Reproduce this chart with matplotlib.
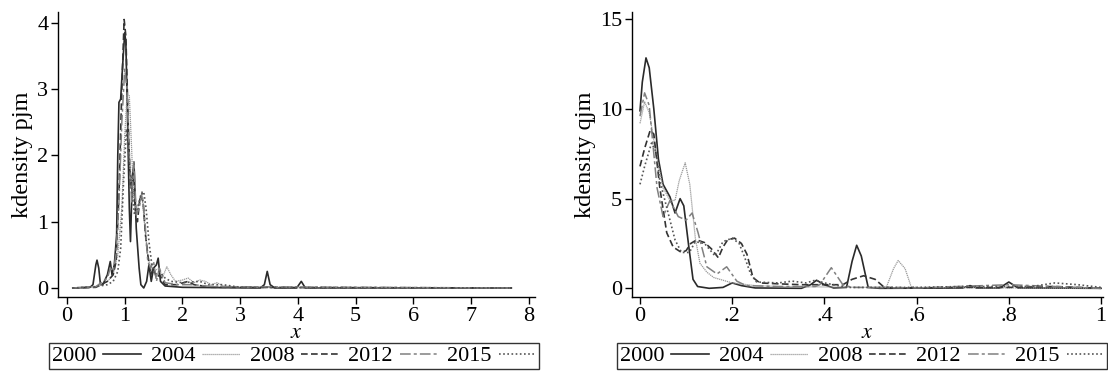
import matplotlib
matplotlib.use("Agg")
import matplotlib.pyplot as plt

plt.rcParams['font.family'] = ['Liberation Serif', 'DejaVu Serif']
plt.rcParams['mathtext.fontset'] = 'stix'

years = ["2000", "2004", "2008", "2012", "2015"]

# ---- left panel: kdensity pjm (x, density) ----
pjm_2000_x = [0.1, 0.4, 0.45, 0.5, 0.52, 0.55, 0.58, 0.62, 0.7, 0.75, 0.78, 0.82, 0.86, 0.88, 0.9, 0.93, 0.96, 1.0, 1.02, 1.05, 1.08, 1.1, 1.13, 1.16, 1.2, 1.25, 1.28, 1.33, 1.38, 1.42, 1.46, 1.5, 1.55, 1.58, 1.62, 1.7, 2.0, 3.35, 3.42, 3.47, 3.52, 3.6, 3.98, 4.06, 4.13, 7.7]
pjm_2000_y = [0.0, 0.01, 0.05, 0.35, 0.42, 0.3, 0.05, 0.05, 0.2, 0.4, 0.2, 0.35, 0.8, 2.0, 2.8, 2.85, 3.3, 3.85, 3.7, 2.5, 1.2, 0.7, 1.6, 1.9, 0.9, 0.3, 0.05, 0.0, 0.1, 0.35, 0.1, 0.3, 0.35, 0.45, 0.1, 0.03, 0.01, 0.0, 0.05, 0.25, 0.05, 0.0, 0.0, 0.1, 0.0, 0.0]

pjm_2004_x = [0.1, 0.5, 0.7, 0.8, 0.88, 0.95, 1.0, 1.04, 1.08, 1.12, 1.15, 1.2, 1.25, 1.3, 1.35, 1.4, 1.45, 1.5, 1.6, 1.65, 1.73, 1.8, 1.88, 2.0, 2.1, 2.2, 2.3, 2.4, 2.5, 2.6, 2.7, 3.0, 4.5, 7.7]
pjm_2004_y = [0.0, 0.02, 0.1, 0.2, 0.5, 1.2, 2.3, 2.9, 2.9, 2.1, 1.4, 1.1, 1.3, 1.4, 0.9, 0.5, 0.3, 0.25, 0.3, 0.15, 0.32, 0.2, 0.1, 0.12, 0.15, 0.08, 0.12, 0.1, 0.05, 0.08, 0.03, 0.01, 0.0, 0.0]

pjm_2008_x = [0.1, 0.5, 0.7, 0.8, 0.85, 0.9, 0.95, 0.99, 1.02, 1.06, 1.1, 1.15, 1.18, 1.22, 1.27, 1.32, 1.36, 1.4, 1.45, 1.5, 1.55, 1.6, 1.7, 1.9, 2.1, 2.2, 2.5, 7.7]
pjm_2008_y = [0.0, 0.01, 0.1, 0.2, 0.4, 1.4, 3.0, 4.05, 3.8, 2.5, 1.5, 1.8, 1.2, 1.0, 1.4, 1.3, 0.8, 0.5, 0.2, 0.3, 0.15, 0.2, 0.05, 0.05, 0.1, 0.05, 0.01, 0.0]

pjm_2012_x = [0.1, 0.5, 0.7, 0.75, 0.8, 0.85, 0.9, 0.95, 1.0, 1.04, 1.08, 1.12, 1.16, 1.2, 1.25, 1.3, 1.35, 1.4, 1.45, 1.5, 1.55, 1.6, 1.7, 1.9, 2.2, 2.4, 2.7, 7.7]
pjm_2012_y = [0.0, 0.02, 0.15, 0.3, 0.25, 0.5, 1.3, 2.5, 3.3, 3.0, 2.0, 1.3, 1.9, 1.1, 1.2, 1.45, 1.0, 0.4, 0.3, 0.4, 0.1, 0.3, 0.08, 0.05, 0.05, 0.03, 0.02, 0.0]

pjm_2015_x = [0.1, 0.5, 0.7, 0.8, 0.88, 0.93, 0.98, 1.03, 1.07, 1.12, 1.17, 1.22, 1.28, 1.33, 1.37, 1.42, 1.47, 1.52, 1.6, 1.7, 1.8, 2.0, 2.3, 2.45, 2.7, 3.0, 7.7]
pjm_2015_y = [0.0, 0.02, 0.05, 0.1, 0.25, 0.6, 1.6, 2.4, 2.0, 1.5, 1.1, 1.2, 1.4, 1.45, 1.2, 0.7, 0.35, 0.2, 0.25, 0.15, 0.1, 0.08, 0.1, 0.05, 0.05, 0.01, 0.0]

# ---- right panel: kdensity qjm ----
qjm_2000_x = [0.0, 0.005, 0.013, 0.02, 0.03, 0.04, 0.05, 0.065, 0.076, 0.087, 0.095, 0.105, 0.115, 0.125, 0.15, 0.18, 0.2, 0.22, 0.25, 0.35, 0.37, 0.383, 0.4, 0.42, 0.448, 0.46, 0.47, 0.48, 0.495, 0.52, 0.7, 0.716, 0.73, 0.78, 0.8, 0.82, 1.0]
qjm_2000_y = [9.9, 11.5, 12.85, 12.3, 10.0, 7.2, 5.8, 5.1, 4.2, 5.0, 4.6, 2.5, 0.5, 0.1, 0.0, 0.05, 0.3, 0.15, 0.02, 0.0, 0.2, 0.45, 0.2, 0.02, 0.05, 1.5, 2.4, 1.8, 0.05, 0.0, 0.02, 0.15, 0.02, 0.02, 0.35, 0.02, 0.0]

qjm_2004_x = [0.0, 0.01, 0.02, 0.035, 0.05, 0.065, 0.076, 0.085, 0.098, 0.108, 0.12, 0.13, 0.145, 0.16, 0.2, 0.25, 0.3, 0.5, 0.535, 0.55, 0.56, 0.575, 0.588, 0.6, 1.0]
qjm_2004_y = [9.2, 10.4, 9.8, 7.5, 5.6, 4.9, 4.9, 6.0, 7.0, 5.8, 2.8, 1.4, 0.9, 0.6, 0.3, 0.15, 0.1, 0.05, 0.1, 1.1, 1.55, 1.1, 0.1, 0.05, 0.0]

qjm_2008_x = [0.0, 0.01, 0.022, 0.03, 0.043, 0.058, 0.072, 0.09, 0.1, 0.11, 0.123, 0.14, 0.155, 0.17, 0.18, 0.19, 0.205, 0.22, 0.232, 0.245, 0.26, 0.3, 0.35, 0.4, 0.44, 0.46, 0.485, 0.51, 0.53, 0.6, 0.7, 0.8, 0.9, 1.0]
qjm_2008_y = [6.8, 7.8, 8.8, 8.6, 5.6, 3.1, 2.3, 2.0, 2.1, 2.5, 2.7, 2.55, 2.2, 1.7, 2.3, 2.7, 2.8, 2.5, 1.9, 0.6, 0.3, 0.25, 0.2, 0.2, 0.2, 0.5, 0.7, 0.5, 0.05, 0.02, 0.05, 0.05, 0.1, 0.0]

qjm_2012_x = [0.0, 0.01, 0.02, 0.03, 0.037, 0.05, 0.065, 0.083, 0.1, 0.113, 0.126, 0.145, 0.167, 0.188, 0.21, 0.23, 0.3, 0.38, 0.39, 0.415, 0.44, 0.46, 0.6, 0.8, 1.0]
qjm_2012_y = [9.6, 10.9, 10.2, 7.5, 5.6, 4.0, 4.9, 4.0, 3.8, 4.2, 3.1, 1.2, 0.8, 1.2, 0.4, 0.15, 0.1, 0.1, 0.2, 1.15, 0.2, 0.05, 0.02, 0.2, 0.0]

qjm_2015_x = [0.0, 0.01, 0.025, 0.035, 0.043, 0.058, 0.076, 0.09, 0.107, 0.12, 0.14, 0.163, 0.18, 0.2, 0.215, 0.226, 0.24, 0.253, 0.3, 0.33, 0.36, 0.38, 0.4, 0.45, 0.6, 0.7, 0.85, 0.9, 0.95, 1.0]
qjm_2015_y = [5.8, 6.8, 8.1, 7.6, 6.0, 4.5, 2.7, 2.0, 2.0, 2.6, 2.5, 1.8, 2.6, 2.8, 2.5, 1.8, 0.8, 0.35, 0.3, 0.4, 0.3, 0.45, 0.3, 0.05, 0.05, 0.1, 0.1, 0.3, 0.2, 0.05]

left_xticks = [0, 1, 2, 3, 4, 5, 6, 7, 8]
left_xticklabels = ["0", "1", "2", "3", "4", "5", "6", "7", "8"]
left_yticks = [0, 1, 2, 3, 4]
right_xticks = [0, 0.2, 0.4, 0.6, 0.8, 1.0]
right_xticklabels = ["0", ".2", ".4", ".6", ".8", "1"]
right_yticks = [0, 5, 10, 15]

styles = {
    "2000": dict(color="#2a2a2a", linestyle="-", linewidth=1.2),
    "2004": dict(color="#9a9a9a", linestyle=(0, (1, 0.6)), linewidth=0.9),
    "2008": dict(color="#333333", linestyle=(0, (4, 2)), linewidth=1.2),
    "2012": dict(color="#808080", linestyle=(0, (7, 2, 2, 2)), linewidth=1.1),
    "2015": dict(color="#555555", linestyle=(0, (1, 1.5)), linewidth=1.2),
}

FS = 16
YFS = 17.5
fig = plt.figure(figsize=(11.08, 3.72), dpi=100)

def setup(ax, xlim, ylim, xticks, xtl, yticks, ylabel):
    ax.set_xlim(*xlim)
    ax.set_ylim(*ylim)
    ax.spines['top'].set_visible(False)
    ax.spines['right'].set_visible(False)
    for s in ('left', 'bottom'):
        ax.spines[s].set_linewidth(1.0)
    ax.set_xticks(xticks)
    ax.set_xticklabels(xtl)
    ax.set_yticks(yticks)
    ax.tick_params(direction='out', length=5, width=1.0, labelsize=FS, pad=2)
    ax.set_xlabel("$x$", fontsize=FS, labelpad=-1)
    ax.set_ylabel(ylabel, fontsize=YFS, labelpad=3)

ax1 = fig.add_axes([58/1108, 1-297/372, 477/1108, 285/372])
pjm = [(pjm_2000_x, pjm_2000_y), (pjm_2004_x, pjm_2004_y), (pjm_2008_x, pjm_2008_y),
       (pjm_2012_x, pjm_2012_y), (pjm_2015_x, pjm_2015_y)]
for yr, (xs, ys) in zip(years, pjm):
    ax1.plot(xs, ys, label=yr, **styles[yr])
setup(ax1, (-0.156, 8.11), (-0.136, 4.163), left_xticks, left_xticklabels, left_yticks, "kdensity pjm")

ax2 = fig.add_axes([631.7/1108, 1-297/372, 471.3/1108, 285/372])
qjm = [(qjm_2000_x, qjm_2000_y), (qjm_2004_x, qjm_2004_y), (qjm_2008_x, qjm_2008_y),
       (qjm_2012_x, qjm_2012_y), (qjm_2015_x, qjm_2015_y)]
for yr, (xs, ys) in zip(years, qjm):
    ax2.plot(xs, ys, label=yr, **styles[yr])
setup(ax2, (-0.018, 1.0043), (-0.485, 15.41), right_xticks, right_xticklabels, right_yticks, "kdensity qjm")

for ax, x0, x1 in ((ax1, 49, 539), (ax2, 617, 1107)):
    h, l = ax.get_legend_handles_labels()
    leg = fig.legend(h, l, loc='center',
                     bbox_to_anchor=((x0 + x1) / 2 / 1108, 1 - 356/372),
                     ncol=5, markerfirst=False, fontsize=FS,
                     frameon=True, fancybox=False, handlelength=1.7, handletextpad=0.3,
                     columnspacing=0.45, borderaxespad=0, borderpad=0.12)
    leg.get_frame().set_edgecolor('black')
    leg.get_frame().set_linewidth(1.0)

fig.savefig("out.png", dpi=100)
